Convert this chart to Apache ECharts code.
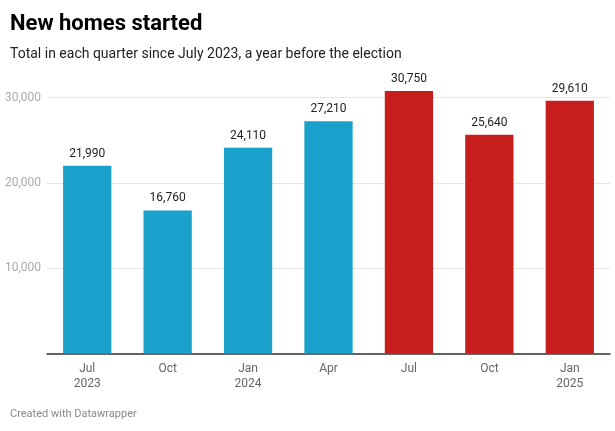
<!DOCTYPE html>
<html><head><meta charset="utf-8">
<script src="https://cdn.jsdelivr.net/npm/echarts@6/dist/echarts.min.js"></script>
<style>html,body{margin:0;padding:0;background:#fff}#c{width:615px;height:431px}</style>
</head><body><div id="c"></div>
<script>
const categories = ["Jul\n2023","Oct","Jan\n2024","Apr","Jul","Oct","Jan\n2025"];
const homesStarted = [21990,16760,24110,27210,30750,25640,29610];
const barColors = ["#1aa1cb","#1aa1cb","#1aa1cb","#1aa1cb","#c71e1d","#c71e1d","#c71e1d"];
const yTicks = [0,10000,20000,30000];

const chart = echarts.init(document.getElementById('c'), null, {renderer:'canvas'});
const fmt = v => v.toLocaleString('en-US');
chart.setOption({
  animation:false,
  textStyle:{fontFamily:'Roboto'},
  title:[
    {text:'New homes started',left:10,top:13,padding:0,textStyle:{fontFamily:'Roboto',fontWeight:'bold',fontSize:22,color:'#000'}},
    {text:'Total in each quarter since July 2023, a year before the election',left:10,top:47,padding:0,textStyle:{fontFamily:'Roboto',fontWeight:'normal',fontSize:14,color:'#222'}},
    {text:'Created with Datawrapper',left:10,top:409,padding:0,textStyle:{fontFamily:'Roboto',fontWeight:'normal',fontSize:11,color:'#888'}}
  ],
  grid:{left:47,right:5,top:97.5,bottom:77.5,containLabel:false},
  xAxis:{type:'category',data:categories,
    axisLine:{lineStyle:{color:'#333',width:1.5}},axisTick:{show:false},
    axisLabel:{color:'#666',fontSize:12,lineHeight:15,margin:8,interval:0}},
  yAxis:{type:'value',min:0,max:30000,interval:10000,
    axisLine:{show:false},axisTick:{show:false},
    splitLine:{lineStyle:{color:'#e6e6e6'}},
    axisLabel:{color:'#aaa',fontSize:12,margin:6,formatter:v=>v===0?'':fmt(v)}},
  series:[{type:'bar',barWidth:'60%',clip:false,
    data:homesStarted.map((v,i)=>({value:v,itemStyle:{color:barColors[i]}})),
    label:{show:true,position:'top',distance:6,color:'#222',fontSize:12,formatter:p=>fmt(p.value)}}]
});
</script></body></html>
